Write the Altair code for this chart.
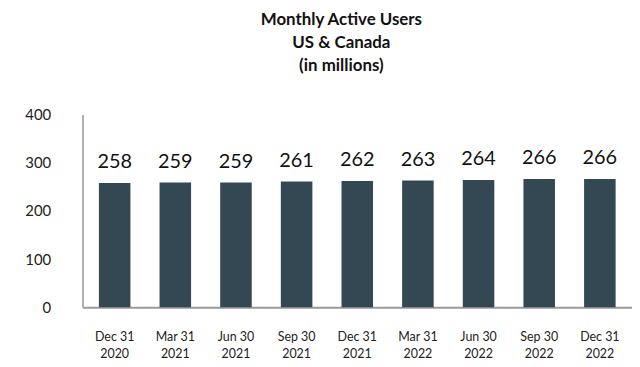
import altair as alt
import pandas as pd

categories = ["Dec 31\n2020", "Mar 31\n2021", "Jun 30\n2021", "Sep 30\n2021", "Dec 31\n2021",
              "Mar 31\n2022", "Jun 30\n2022", "Sep 30\n2022", "Dec 31\n2022"]
values = [258, 259, 259, 261, 262, 263, 264, 266, 266]
y_ticks = [0, 100, 200, 300, 400]

df = pd.DataFrame({"quarter": categories, "mau": values})

FONT = "Lato"

base = alt.Chart(df).encode(
    x=alt.X("quarter:N", sort=categories,
            scale=alt.Scale(paddingInner=0.48, paddingOuter=0.27),
            axis=alt.Axis(title=None, labelAngle=0, ticks=False, domainColor="#9a9a9a",
                          domainWidth=2, labelExpr="split(datum.label, '\\n')",
                          labelFontSize=12.5, labelColor="#222", labelFont=FONT,
                          labelPadding=23, labelLineHeight=18)),
    y=alt.Y("mau:Q", scale=alt.Scale(domain=[0, 400]),
            axis=alt.Axis(title=None, values=y_ticks, grid=False, ticks=False,
                          domainColor="#b0b0b0", domainWidth=2, labelFontSize=15,
                          labelColor="#222", labelFont=FONT, labelPadding=32)),
)

bars = base.mark_bar(color="#344853")
labels = base.mark_text(dy=-11, baseline="bottom", fontSize=20, font=FONT, color="#111").encode(
    text="mau:Q")

chart = (bars + labels).properties(
    width=553, height=194,
    autosize=alt.AutoSizeParams(type="none"),
    padding={"left": 75, "top": 106, "right": 0, "bottom": 58},
    title=alt.TitleParams(["Monthly Active Users", "US & Canada", "(in millions)"],
                          font=FONT, fontSize=17, fontWeight="bold", color="#111",
                          lineHeight=23, offset=33, anchor="middle", dx=-16),
).configure_view(stroke=None)

chart.save("out.html", embed_options={"renderer": "svg", "actions": False})
